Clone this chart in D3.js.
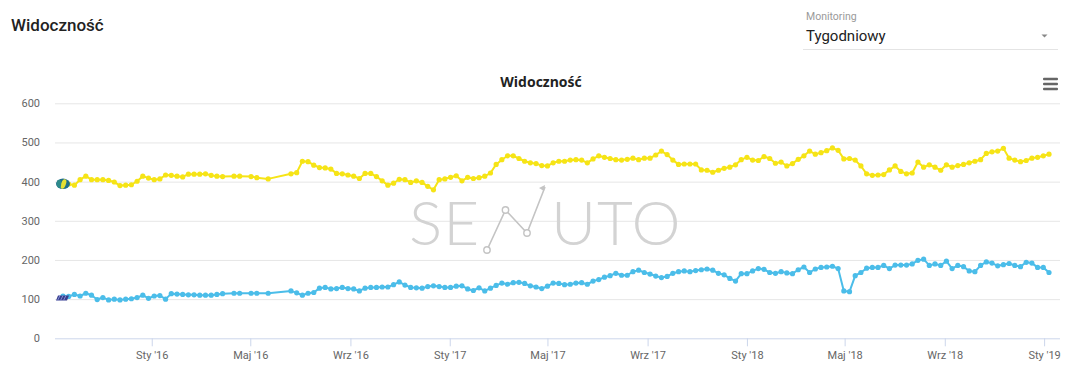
<!DOCTYPE html>
<html><head><meta charset="utf-8">
<script src="https://cdn.jsdelivr.net/npm/d3@7"></script>
<style>
html,body{margin:0;padding:0;background:#fff;}
svg{display:block;}
</style></head>
<body>
<svg id="chart" width="1080" height="370"></svg>
<script>
// ---- data ----
const startDate = "2015-09-14"; // first weekly observation
const yellowValues = [
397,394,391,405,414,405,405,405,403,399,
390,391,392,401,414,409,405,407,417,416,
414,412,419,419,419,420,416,414,413,null,
414,414,null,413,410,null,407,null,null,null,
420,423,452,451,442,436,435,432,421,420,
417,414,408,421,421,413,402,391,396,406,
405,398,402,398,388,379,405,407,411,415,
402,411,408,410,414,422,444,456,466,466,
459,452,448,446,441,440,448,452,452,455,
456,455,448,458,466,462,459,456,455,457,
460,456,460,460,468,478,469,455,444,445,
445,445,430,429,424,429,434,437,443,456,
462,455,454,464,459,447,450,440,446,457,
466,478,470,474,479,486,480,458,459,455,
440,420,416,417,418,430,440,426,420,422,
450,437,443,437,429,443,437,441,444,448,
452,456,472,476,478,485,460,455,451,454,
460,462,466,470];
const blueValues = [
108,107,112,108,115,110,99,104,98,100,
98,100,101,104,110,102,108,109,100,114,
113,112,111,111,110,110,110,112,114,null,
115,115,null,115,115,null,115,null,null,null,
121,116,110,115,117,128,130,126,127,130,
127,126,121,128,130,130,131,131,137,144,
136,130,129,128,132,134,132,130,130,133,
134,126,122,129,121,128,135,141,138,142,
143,140,134,131,127,133,141,140,137,138,
141,142,138,146,150,156,160,166,161,161,
170,174,168,164,159,155,158,166,170,172,
170,173,175,177,174,166,162,153,146,165,
165,172,178,176,168,166,170,167,165,175,
182,168,177,181,182,184,178,121,119,160,
168,179,181,181,186,178,187,187,187,190,
199,202,186,190,186,197,178,186,183,172,
170,186,195,192,185,188,191,186,183,194,
192,181,181,168];
const yTicks = [0,100,200,300,400,500,600];
const monthNames = ["Sty","Lut","Mar","Kwi","Maj","Cze","Lip","Sie","Wrz","Paź","Lis","Gru"];
const xTickDates = ["2016-01-01","2016-05-01","2016-09-01","2017-01-01","2017-05-01","2017-09-01","2018-01-01","2018-05-01","2018-09-01","2019-01-01"];
const pageTitle = "Widoczność";
const chartTitle = "Widoczność";
const selectLabel = "Monitoring";
const selectValue = "Tygodniowy";
const watermarkLeft = "SE";
const watermarkRight = "UTO";

// ---- build ----
const parse = d3.utcParse("%Y-%m-%d");
const t0 = parse(startDate);
const dates = yellowValues.map((_, i) => d3.utcDay.offset(t0, 7 * i));
const yellowData = dates.map((d, i) => ({d, v: yellowValues[i]})).filter(p => p.v != null);
const blueData = dates.map((d, i) => ({d, v: blueValues[i]})).filter(p => p.v != null);

const svg = d3.select("#chart");
const plotLeft = 55, plotRight = 1060;
const x = d3.scaleUtc().domain(d3.extent(dates)).range([63, 1049]);
const y = d3.scaleLinear().domain([0, 600]).range([338.3, 103.3]);

// page header
svg.append("text").attr("x", 11).attr("y", 31).text(pageTitle)
  .attr("font-family", "Roboto, sans-serif").attr("font-size", 17).attr("font-weight", 500).attr("fill", "#222");
svg.append("text").attr("x", 806).attr("y", 20).text(selectLabel)
  .attr("font-family", "Roboto, sans-serif").attr("font-size", 10.5).attr("fill", "#9a9a9a");
svg.append("text").attr("x", 806).attr("y", 41).text(selectValue)
  .attr("font-family", "Roboto, sans-serif").attr("font-size", 15).attr("fill", "#222");
svg.append("path").attr("d", "M1041.5,34.5 l3,3 l3,-3 z").attr("fill", "#888");
svg.append("line").attr("x1", 803).attr("x2", 1058).attr("y1", 49.5).attr("y2", 49.5)
  .attr("stroke", "#e4e4e4").attr("stroke-width", 1);

// chart title
svg.append("text").attr("x", 541).attr("y", 87).attr("text-anchor", "middle").text(chartTitle)
  .attr("font-family", "'Open Sans', sans-serif").attr("font-size", 14).attr("font-weight", 700).attr("fill", "#222");

// hamburger
[79, 84, 89].forEach(yy => svg.append("rect").attr("x", 1043).attr("y", yy - 1.2).attr("width", 15).attr("height", 2.4)
  .attr("fill", "#666").attr("rx", 1));

// grid + y labels
const yAxis = d3.axisLeft(y).tickValues(yTicks).tickSize(-(plotRight - plotLeft)).tickPadding(15);
const gy = svg.append("g").attr("transform", `translate(${plotLeft},0)`).call(yAxis);
gy.select(".domain").remove();
gy.selectAll(".tick line").attr("stroke", "#e6e6e6").attr("stroke-width", 1);
gy.selectAll(".tick").filter(d => d === 0).select("line").attr("stroke", "#ccd6eb");
gy.selectAll("text").attr("font-family", "Roboto, sans-serif").attr("font-size", 11).attr("fill", "#666");

// x axis
const xAxis = d3.axisBottom(x).tickValues(xTickDates.map(parse)).tickSize(8).tickSizeOuter(0)
  .tickFormat(d => monthNames[d.getUTCMonth()] + " '" + String(d.getUTCFullYear()).slice(2));
const gx = svg.append("g").attr("transform", `translate(0,${y(0)})`).call(xAxis);
gx.select(".domain").remove();
gx.selectAll(".tick line").attr("stroke", "#ccd6eb");
gx.selectAll("text").attr("font-family", "Roboto, sans-serif").attr("font-size", 11).attr("fill", "#666").attr("dy", "0.9em");

// watermark
const wm = svg.append("g").attr("fill", "#d3d3d3");
wm.append("text").attr("x", 409).attr("y", 245).text(watermarkLeft)
  .attr("font-family", "Lato, sans-serif").attr("font-weight", 300).attr("font-size", 62).attr("letter-spacing", 1);
wm.append("text").attr("x", 551).attr("y", 245).text(watermarkRight)
  .attr("font-family", "Lato, sans-serif").attr("font-weight", 300).attr("font-size", 62).attr("letter-spacing", 1);
const wmPts = [[487, 250], [505.5, 210], [527, 233], [545, 187]];
wm.append("path").attr("d", d3.line()(wmPts)).attr("fill", "none").attr("stroke", "#c4c4c4").attr("stroke-width", 1.6);
wm.append("path").attr("d", "M545,185 l-6,3 l5,3 z").attr("fill", "#c4c4c4");
wmPts.slice(0, 3).forEach(p => wm.append("circle").attr("cx", p[0]).attr("cy", p[1]).attr("r", 3.2)
  .attr("fill", "#fff").attr("stroke", "#c4c4c4").attr("stroke-width", 1.4));

// series
const line = d3.line().x(p => x(p.d)).y(p => y(p.v));
function drawSeries(data, color) {
  const g = svg.append("g");
  g.append("path").datum(data).attr("d", line).attr("fill", "none").attr("stroke", color)
    .attr("stroke-width", 2).attr("stroke-linejoin", "round");
  g.selectAll("circle").data(data).join("circle").attr("cx", p => x(p.d)).attr("cy", p => y(p.v))
    .attr("r", 2.6).attr("fill", color);
}
drawSeries(blueData, "#4bbde9");
drawSeries(yellowData, "#f6e416");

// start flags
const fy = yellowData[0], fb = blueData[0];
const fg = svg.append("g").attr("transform", `translate(${x(fy.d)},${y(fy.v) + 1})`);
fg.append("ellipse").attr("rx", 7).attr("ry", 5.2).attr("fill", "#1f6f8b");
fg.append("ellipse").attr("cx", 0.5).attr("rx", 2.4).attr("ry", 5).attr("fill", "#e5e033").attr("transform", "rotate(20)");
fg.append("ellipse").attr("cx", -4).attr("rx", 2.2).attr("ry", 4).attr("fill", "#2d8a8a");
const bg = svg.append("g").attr("transform", `translate(${x(fb.d)},${y(fb.v) + 2})`);
bg.append("path").attr("d", "M-5,-2.5 L6,-2.5 L4,2.5 L-7,2.5 Z").attr("fill", "#3a3f8f");
[-4, -1, 2].forEach(dx => bg.append("line").attr("x1", dx - 1.5).attr("y1", 2.5).attr("x2", dx + 1).attr("y2", -2.5)
  .attr("stroke", "#8fa0e0").attr("stroke-width", 0.8));
</script>
</body></html>
